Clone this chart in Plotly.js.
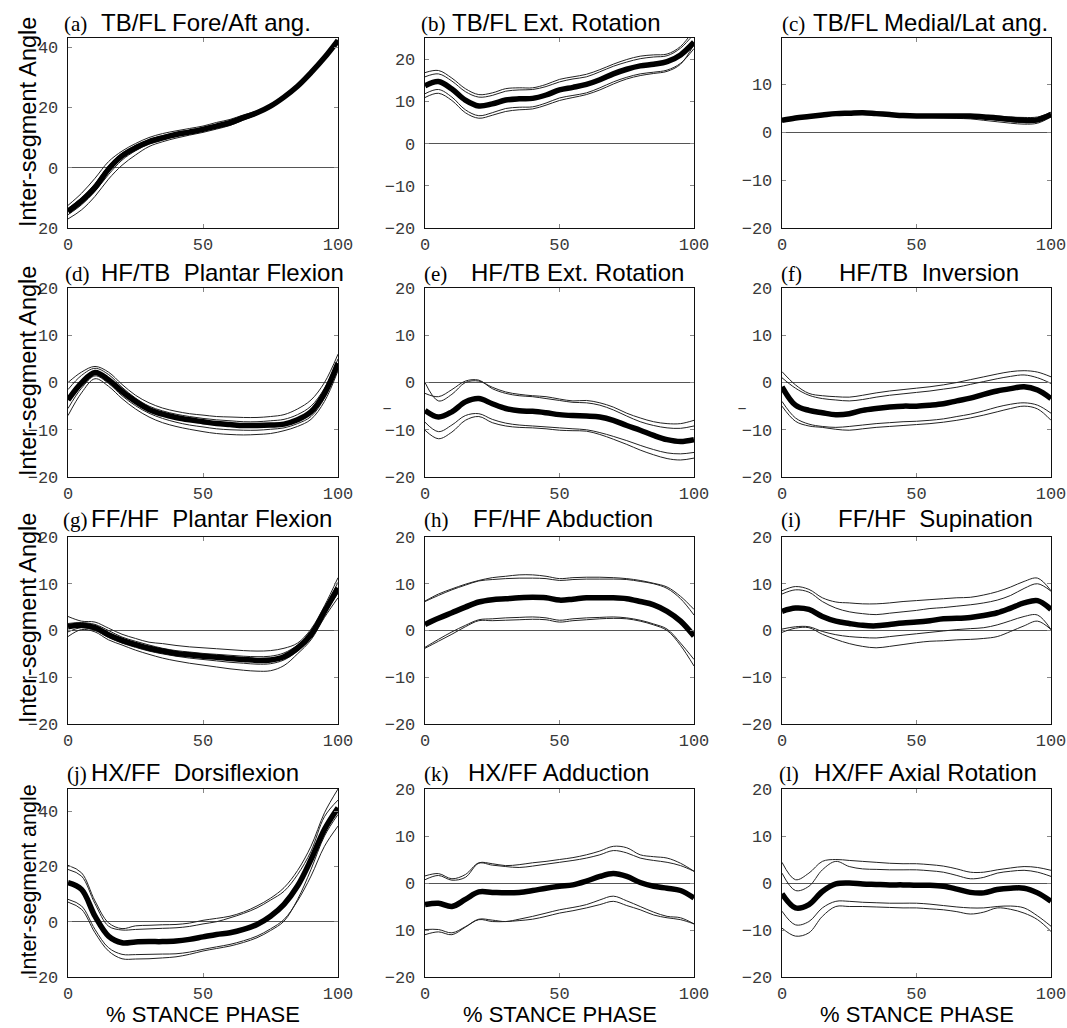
<!DOCTYPE html>
<html><head><meta charset="utf-8">
<script src="https://cdn.plot.ly/plotly-3.0.1.min.js"></script>
<style>html,body{margin:0;padding:0;background:#fff}#chart{width:1067px;height:1028px}</style>
</head><body><div id="chart"></div>
<script>
// ---------------- DATA ----------------
const pct = [0,5,10,15,20,25,30,35,40,45,50,55,60,65,70,75,80,85,90,95,100];

const panelLetters = ["(a)","(b)","(c)","(d)","(e)","(f)","(g)","(h)","(i)","(j)","(k)","(l)"];
const panelTitles = ["TB/FL Fore/Aft ang.","TB/FL Ext. Rotation","TB/FL Medial/Lat ang.",
  "HF/TB\u00a0\u00a0Plantar Flexion","HF/TB Ext. Rotation","HF/TB\u00a0\u00a0Inversion",
  "FF/HF\u00a0\u00a0Plantar Flexion","FF/HF Abduction","FF/HF\u00a0\u00a0Supination",
  "HX/FF\u00a0\u00a0Dorsiflexion","HX/FF Adduction","HX/FF Axial Rotation"];
const yAxisLabels = ["Inter-segment Angle","Inter-segment Angle","Inter-segment Angle","Inter-segment angle"];
const xAxisLabel = "% STANCE PHASE";
const xTickVals = [0,50,100];
const xTickText = ["0","50","100"];

const yRanges = [[-20,43],[-20,25],[-20,19.7],[-20,20],[-20,20],[-20,20],[-20,20],[-20,20],[-20,20],[-20,48],[-20,20],[-20,20]];
const yTickVals = [[-20,0,20,40],[-20,-10,0,10,20],[-20,-10,0,10],[-20,-10,0,10,20],[-20,-10,0,10,20],[-20,-10,0,10,20],
  [-20,-10,0,10,20],[-20,-10,0,10,20],[-20,-10,0,10,20],[-20,0,20,40],[-20,-10,0,10,20],[-20,-10,0,10,20]];
const yTickText = [["20","0","20","40"],["\u221220","\u221210","0","10","20"],["\u221220","\u221210","0","10"],
  ["\u221220","\u221210","0","10","20"],["\u221220","\u221210","0","10","20"],["\u221220","\u221210","0","10","20"],
  ["\u221220","\u221210","0","10","20"],["\u221220","\u221210","0","10","20"],["\u221220","\u221210","0","10","20"],
  ["\u221220","0","20","40"],["\u221220","10","0","10","20"],["\u221220","\u221210","0","10","20"]];

// (a) TB/FL Fore/Aft
const aMean = [-14.5,-11,-6.6,-0.5,3.9,6.6,8.6,9.9,11,11.8,12.7,13.8,14.9,16.6,18.2,20.4,23.4,27,31.5,36.5,42.2];
const aU1 = [-12.5,-8.5,-3.5,2,5.5,8,10,11.3,12.2,13,13.8,15,16,17.5,18.8,20.8,23.6,27.2,31.7,36.7,42.5];
const aU2 = [-13.5,-10,-5.3,0.6,4.8,7.3,9.3,10.6,11.6,12.4,13.3,14.4,15.5,17.1,18.5,20.6,23.5,27.1,31.6,36.6,42.3];
const aL1 = [-15.6,-12.3,-7.8,-2.3,2.5,5.6,7.8,9.2,10.4,11.3,12.2,13.3,14.4,16.2,17.9,20.2,23.3,26.9,31.4,36.4,42];
const aL2 = [-17,-14,-9.5,-3.8,0.8,4.2,7,8.6,9.8,10.8,11.7,12.8,14,15.8,17.6,20,23.1,26.8,31.3,36.3,41.8];
// (b) TB/FL Ext. Rotation
const bMean = [13.7,14.7,12.9,10.3,8.9,9.4,10.3,10.6,10.7,11.5,12.7,13.3,14,15.1,16.5,17.6,18.4,18.8,19.4,21,24];
const bU1 = [16.8,17.3,15.5,13,11.6,12,13,13.2,13.2,14,15.2,15.8,16.4,17.5,18.8,19.9,20.7,21,21.2,23,27];
const bU2 = [15.8,16.5,14.8,12.3,11,11.4,12.4,12.7,12.8,13.5,14.6,15.3,15.8,17,18.3,19.3,20.1,20.5,20.8,22.6,26];
const bL1 = [11.8,12.8,11,8,6.6,7.3,8.3,8.6,8.7,9.6,10.8,11.4,12,13.2,14.6,15.7,16.5,16.9,17.4,19,22.5];
const bL2 = [10.9,11.9,10.2,7.3,6,6.7,7.6,8,8.2,9.1,10.2,10.9,11.6,12.7,14.1,15.3,16.1,16.6,17.1,18.8,23.5];
// (c) TB/FL Medial/Lat
const cMean = [2.5,3.0,3.3,3.6,3.9,4.0,4.1,3.9,3.7,3.5,3.4,3.4,3.4,3.4,3.4,3.2,3.0,2.7,2.5,2.6,3.7];
const cU1 = [2.8,3.3,3.6,3.9,4.2,4.3,4.4,4.2,4.0,3.8,3.7,3.7,3.7,3.7,3.7,3.6,3.4,3.2,3.1,3.2,4.2];
const cU2 = [2.6,3.1,3.4,3.7,4.0,4.1,4.2,4.0,3.8,3.6,3.5,3.5,3.5,3.5,3.5,3.3,3.1,2.9,2.7,2.8,3.9];
const cL1 = [2.3,2.8,3.1,3.4,3.7,3.8,3.9,3.7,3.5,3.3,3.2,3.2,3.2,3.1,3.0,2.8,2.5,2.2,2.0,2.2,3.4];
const cL2 = [2.2,2.7,3.0,3.3,3.6,3.7,3.8,3.6,3.4,3.2,3.1,3.1,3.0,2.9,2.8,2.5,2.2,1.9,1.7,1.9,3.2];
// (d) HF/TB Plantar Flexion
const dMean = [-3.7,-0.1,2.1,0.6,-1.9,-4,-5.7,-6.7,-7.4,-7.9,-8.3,-8.7,-8.9,-9.1,-9.1,-9,-8.8,-7.9,-6.2,-2.3,4.1];
const dU1 = [0,2.2,3.4,2.2,-0.4,-2.7,-4.3,-5.4,-6.1,-6.6,-6.9,-7.2,-7.3,-7.4,-7.4,-7.2,-6.8,-5.6,-3.7,0,6];
const dU2 = [-1.5,1.5,3,1.7,-1,-3.3,-5,-6,-6.7,-7.2,-7.6,-7.9,-8.1,-8.3,-8.3,-8.1,-7.8,-6.8,-5,-1.2,5];
const dL1 = [-5.5,-1.2,1.4,-0.2,-2.8,-4.9,-6.5,-7.6,-8.4,-9,-9.4,-9.8,-10,-10.1,-10.1,-9.9,-9.6,-8.7,-7.2,-3.3,3.3];
const dL2 = [-7,-2.2,0.8,-0.8,-3.4,-5.6,-7.3,-8.5,-9.3,-9.9,-10.4,-10.8,-11,-11.1,-11,-10.8,-10.2,-9.3,-7.8,-4,2.5];
// (e) HF/TB Ext. Rotation
const eMean = [-5.9,-7.3,-6.2,-4.1,-3.4,-4.5,-5.5,-6,-6.1,-6.4,-6.8,-7,-7.1,-7.3,-8,-9.1,-10.1,-11.2,-12.1,-12.5,-12.1];
const eU1 = [0,-3.9,-2.5,0,0.3,-1,-2,-2.5,-2.8,-3,-3.5,-3.9,-3.8,-4.3,-5.2,-6.5,-7.5,-8.3,-8.7,-8.7,-8];
const eU2 = [-2.3,-3,-1.5,0.3,0.5,-1.3,-2.3,-2.8,-3,-3.4,-3.8,-4.2,-4.3,-4.8,-5.8,-7.1,-8.3,-9.1,-9.6,-9.7,-9.2];
const eL1 = [-8.4,-10.4,-9,-7,-6.6,-7.8,-8.6,-9,-9.2,-9.4,-9.6,-9.8,-10,-10.6,-11.4,-12.3,-13.3,-14.2,-14.9,-15.1,-14.8];
const eL2 = [-10.1,-11.9,-10.5,-8,-7.2,-8.5,-9.2,-9.5,-9.6,-9.8,-10.1,-10.2,-10.3,-11,-12,-13.1,-14.3,-15.3,-16.1,-16.4,-16];
// (f) HF/TB Inversion
const fMean = [-0.9,-4.8,-5.9,-6.4,-6.8,-6.6,-5.9,-5.5,-5.2,-5,-5,-4.8,-4.5,-3.9,-3.3,-2.5,-1.8,-1.3,-0.9,-1.6,-3.4];
const fU1 = [2.3,-0.5,-2.3,-2.8,-3,-3.1,-2.7,-2.2,-1.8,-1.5,-1.2,-0.9,-0.5,0,0.6,1.2,1.8,2.3,2.5,2.2,1.2];
const fU2 = [1,-1.2,-2.7,-3.4,-3.7,-3.9,-3.6,-3.1,-2.7,-2.4,-2.1,-1.8,-1.4,-1,-0.4,0.2,0.8,1.3,1.6,1,-0.2];
const fL1 = [-4,-7.5,-8.8,-9.3,-9.5,-9.3,-9,-8.7,-8.5,-8.3,-8.2,-8,-7.7,-7.2,-6.7,-6,-5.2,-4.6,-4.3,-4.8,-6.5];
const fL2 = [-5,-8.2,-9.2,-9.5,-9.9,-10.1,-9.8,-9.5,-9.3,-9.1,-8.9,-8.7,-8.4,-8,-7.5,-6.9,-6.2,-5.5,-5,-5.6,-8];
// (g) FF/HF Plantar Flexion
const gMean = [0.8,1.1,0.6,-0.9,-2.1,-3,-3.8,-4.4,-4.9,-5.2,-5.5,-5.7,-6,-6.2,-6.4,-6.3,-5.6,-3.8,-0.9,4.1,9.1];
const gU1 = [3,2,1.8,0.5,-0.8,-1.7,-2.5,-2.8,-3.2,-3.5,-3.7,-3.9,-4.1,-4.3,-4.4,-4.3,-3.8,-2.7,0.3,5.3,11.3];
const gU2 = [1.5,1.7,1.3,0,-1.4,-2.3,-3.1,-3.8,-4.3,-4.6,-4.9,-5.1,-5.3,-5.5,-5.6,-5.5,-4.8,-3.1,0,4.8,10.3];
const gL1 = [-0.3,0.6,0,-1.5,-2.7,-3.6,-4.4,-5,-5.5,-5.9,-6.2,-6.5,-6.8,-7,-7.2,-7.1,-6.3,-4.4,-1.5,3.5,8];
const gL2 = [-1.3,0.2,-0.3,-2,-3.1,-4.2,-5.1,-5.9,-6.5,-7,-7.4,-7.8,-8.2,-8.5,-8.7,-8.6,-7.5,-5,-2,2.8,7];
// (h) FF/HF Abduction
const hMean = [1.3,2.6,3.8,5,6.1,6.6,6.8,7,7.1,7,6.5,6.7,7,7,7,6.8,6.2,5.5,4.1,2,-1.2];
const hU1 = [6.3,7.8,8.9,9.9,10.7,11.3,11.6,11.9,11.9,11.6,11.1,11.3,11.4,11.4,11.3,11.1,10.7,10.1,9.3,7.3,4.5];
const hU2 = [6.2,7.5,8.7,9.7,10.6,10.9,11.1,11.2,11.2,11.1,10.7,10.9,11,11,11,10.9,10.5,10,9,6.8,3.3];
const hL1 = [-3.6,-1.9,-0.3,1.1,2.3,2.5,2.7,2.8,2.9,2.7,2.2,2.5,2.7,2.8,2.9,2.7,2.2,1.4,0.3,-2.7,-6.2];
const hL2 = [-3.8,-2.3,-0.8,0.8,2.1,2.1,2.2,2.3,2.4,2.3,1.8,2.1,2.3,2.5,2.6,2.5,2,1.2,0,-3.2,-7.6];
// (i) FF/HF Supination
const iMean = [4.1,4.8,4.5,3,2,1.5,1.1,1,1.3,1.6,1.8,2.1,2.5,2.6,2.8,3.2,3.8,4.8,5.9,6.4,4.5];
const iU1 = [8.5,9.4,8.8,7,6.1,5.9,5.7,5.7,5.9,6.2,6.4,6.6,6.8,7,7.1,7.6,8.3,9.3,10.5,11.2,8.5];
const iU2 = [7.8,8.7,8.2,6.2,4.8,4,3.6,3.4,3.7,4,4.3,4.7,4.9,5.2,5.5,5.9,6.5,7.5,9,10,8.4];
const iL1 = [0.3,0.8,0.8,-0.2,-0.9,-1.3,-1.5,-1.6,-1.3,-1,-0.7,-0.4,-0.1,0.2,0.4,0.6,1.2,2.1,3,3.3,0.2];
const iL2 = [-0.4,0.5,0.6,-0.8,-1.9,-2.8,-3.4,-3.7,-3.4,-3,-2.6,-2.3,-2.2,-2,-1.9,-1.7,-1.3,-0.2,1,2,0.2];
// (j) HX/FF Dorsiflexion
const jMean = [14.1,11.7,2,-5.2,-7.6,-7.3,-7.2,-7.2,-7,-6.4,-5.5,-4.6,-4,-2.8,-1,2,6.3,12.9,22.5,33.4,41.2];
const jU1 = [20.4,17.7,7.5,-0.4,-2.5,-1.5,-1.3,-1.1,-1,-0.5,0.5,1.2,2,3.5,5.7,8.5,12.3,18.5,27.3,39.4,48];
const jU2 = [18.9,16.5,6.5,-1.6,-3,-2.8,-2.6,-2.4,-2.2,-1.7,-0.8,0,1.4,3,5,7.8,11,17,25.5,38,44];
const jL1 = [8.1,5.7,-2.8,-9.4,-11.8,-11.9,-11.8,-11.7,-11.6,-11,-10,-9.1,-8.2,-6.9,-5.2,-2.6,0.8,7.5,16.5,27.3,34.6];
const jL2 = [7.1,4.5,-4,-10.6,-13.4,-13.5,-13.4,-13.1,-12.7,-11.8,-10.6,-9.7,-8.8,-7.5,-5.8,-3.2,0.2,8,18.9,31,38.8];
// (k) HX/FF Adduction
const kMean = [-4.6,-4.3,-5,-3.5,-1.9,-2,-2.1,-2,-1.6,-1.1,-0.7,-0.4,0.4,1.4,2,1.4,0.1,-0.7,-1.1,-1.6,-3.2];
const kU1 = [1.5,2,0.9,1.8,4.3,4.1,3.7,3.9,4.3,4.6,5,5.4,6,6.8,7.8,7.5,6,5.6,5.3,4.2,2.5];
const kU2 = [0.7,1.6,0.6,1.2,4.2,3.8,3.5,3.3,3.6,4,4.4,4.8,5.3,6,6.9,6.4,5.3,4.8,4.4,3.7,2.5];
const kL1 = [-9.9,-9.9,-10.6,-9.3,-7.7,-7.9,-8.2,-7.7,-7.1,-6.4,-5.7,-5.2,-4.6,-3.6,-2.8,-3.8,-5,-6.2,-7.1,-7.4,-8.7];
const kL2 = [-11,-10.4,-11,-9.4,-7.8,-8.2,-8.2,-8,-7.7,-7.1,-6.4,-5.9,-5.3,-4.6,-3.9,-4.8,-5.7,-6.8,-7.4,-7.8,-8.7];
// (l) HX/FF Axial Rotation
const lMean = [-2.3,-5.3,-4.6,-1.8,-0.2,0,-0.2,-0.3,-0.4,-0.4,-0.5,-0.5,-0.7,-1.3,-2,-2.1,-1.4,-1.1,-1.1,-2.1,-3.9];
const lU1 = [4.4,0.7,2.1,4.6,5,4.8,4.6,4.4,4.2,4.1,4.1,3.9,3.6,3,2.3,2.3,2.8,3.2,3.5,3.3,2.7];
const lU2 = [2.1,-1.6,-0.7,2.8,4.6,3.5,3,2.9,2.8,2.8,2.8,2.6,2.3,1.6,0.9,1.2,2.1,2.5,2.7,2.3,1.4];
const lL1 = [-6,-8.9,-8.2,-5.3,-3.9,-3.9,-4.1,-4.2,-4.3,-4.3,-4.3,-4.5,-4.8,-5.1,-5.3,-5.3,-5,-4.9,-5.3,-7,-9.2];
const lL2 = [-9.6,-11.3,-10.6,-7.1,-5,-5,-5,-5.1,-5.2,-5.3,-5.3,-5.5,-5.7,-6.1,-6.6,-6.2,-5.3,-5.6,-6.4,-7.8,-10.3];

const panels = [
  {mean:aMean, thin:[aU1,aU2,aL1,aL2]}, {mean:bMean, thin:[bU1,bU2,bL1,bL2]}, {mean:cMean, thin:[cU1,cU2,cL1,cL2]},
  {mean:dMean, thin:[dU1,dU2,dL1,dL2]}, {mean:eMean, thin:[eU1,eU2,eL1,eL2]}, {mean:fMean, thin:[fU1,fU2,fL1,fL2]},
  {mean:gMean, thin:[gU1,gU2,gL1,gL2]}, {mean:hMean, thin:[hU1,hU2,hL1,hL2]}, {mean:iMean, thin:[iU1,iU2,iL1,iL2]},
  {mean:jMean, thin:[jU1,jU2,jL1,jL2]}, {mean:kMean, thin:[kU1,kU2,kL1,kL2]}, {mean:lMean, thin:[lU1,lU2,lL1,lL2]}
];

// ---------------- LAYOUT GEOMETRY (pixels) ----------------
const W = 1067, H = 1028;
const colPx = [[68,338],[425,694],[782,1051]];
const rowPx = [[38,228],[288,477],[537,724],[789,977]];
const titleBase = [32,282,528,782];
const letterX = [63,420,781,64,423,780,62,423,780,66,423,778];
const titleX = [100,451,812,100,470,838,90,472,837,90,467,813];
const yLabelSize = [23.5,23.5,23.5,21.5];

const px2x = p => p / W;
const px2y = p => 1 - p / H;

const traces = [];
const layout = {
  width: W, height: H, autosize: false,
  margin: {l:0, r:0, t:0, b:0, pad:0},
  paper_bgcolor: '#fff', plot_bgcolor: '#fff',
  showlegend: false,
  annotations: []
};

const tickFont = {family: '"Liberation Mono", "Courier New", monospace', size: 17, color: '#3a3a3a'};
const sansFont = '"Liberation Sans", Arial, Helvetica, sans-serif';
const serifFont = '"Liberation Serif", "Times New Roman", serif';

panels.forEach((pn, p) => {
  const r = Math.floor(p / 3), c = p % 3;
  const sfx = p === 0 ? '' : String(p + 1);
  const xa = 'x' + sfx, ya = 'y' + sfx;
  pn.thin.forEach(arr => {
    traces.push({x: pct, y: arr, xaxis: xa, yaxis: ya, type: 'scatter', mode: 'lines',
      line: {color: '#222', width: 1, shape: 'spline', smoothing: 1}, hoverinfo: 'skip'});
  });
  traces.push({x: pct, y: pn.mean, xaxis: xa, yaxis: ya, type: 'scatter', mode: 'lines',
    line: {color: '#000', width: 5.5, shape: 'spline', smoothing: 1}, hoverinfo: 'skip'});

  const common = {showgrid: false, showline: true, linecolor: '#111', linewidth: 1.3, mirror: 'ticks',
    ticks: 'inside', ticklen: 4, tickwidth: 1, tickcolor: '#888', tickfont: tickFont, fixedrange: true};
  layout['xaxis' + sfx] = Object.assign({}, common, {
    domain: [px2x(colPx[c][0]), px2x(colPx[c][1])], anchor: ya, range: [0, 100],
    tickmode: 'array', tickvals: xTickVals, ticktext: xTickText, zeroline: false, ticklabelstandoff: 0});
  layout['yaxis' + sfx] = Object.assign({}, common, {
    domain: [px2y(rowPx[r][1]), px2y(rowPx[r][0])], anchor: xa, range: yRanges[p],
    tickmode: 'array', tickvals: yTickVals[p], ticktext: yTickText[p],
    zeroline: true, zerolinecolor: '#555', zerolinewidth: 1, ticklabelstandoff: 5});

  // panel titles
  const yb = px2y(titleBase[r] + 5);
  layout.annotations.push({xref: 'paper', yref: 'paper', x: px2x(letterX[p]), y: yb, xanchor: 'left', yanchor: 'bottom',
    text: panelLetters[p], showarrow: false, borderpad: 0, font: {family: serifFont, size: 21, color: '#000'}});
  layout.annotations.push({xref: 'paper', yref: 'paper', x: px2x(titleX[p]), y: yb, xanchor: 'left', yanchor: 'bottom',
    text: panelTitles[p], showarrow: false, borderpad: 0, font: {family: sansFont, size: 24, color: '#000'}});
});

// y-axis labels (first column)
rowPx.forEach((rp, r) => {
  layout.annotations.push({xref: 'paper', yref: 'paper', x: px2x(28), y: px2y(rp[1]), xanchor: 'center', yanchor: 'bottom',
    textangle: -90, text: yAxisLabels[r], showarrow: false, borderpad: 0, font: {family: sansFont, size: yLabelSize[r], color: '#000'}});
});
// x-axis labels (bottom row)
colPx.forEach(cp => {
  layout.annotations.push({xref: 'paper', yref: 'paper', x: px2x((cp[0] + cp[1]) / 2), y: px2y(1001), xanchor: 'center', yanchor: 'top',
    text: xAxisLabel, showarrow: false, borderpad: 0, font: {family: sansFont, size: 22, color: '#000'}});
});
// stray minus marks seen beside panels (e) and (f)
[[4, 387], [5, 742]].forEach(([p, xp]) => {
  layout.annotations.push({xref: 'paper', yref: 'y' + (p + 1), x: px2x(xp), y: -5.5, xanchor: 'center', yanchor: 'middle',
    text: '\u2013', showarrow: false, borderpad: 0, font: tickFont});
});

Plotly.newPlot('chart', traces, layout, {staticPlot: true, displayModeBar: false});
</script>
</body></html>
